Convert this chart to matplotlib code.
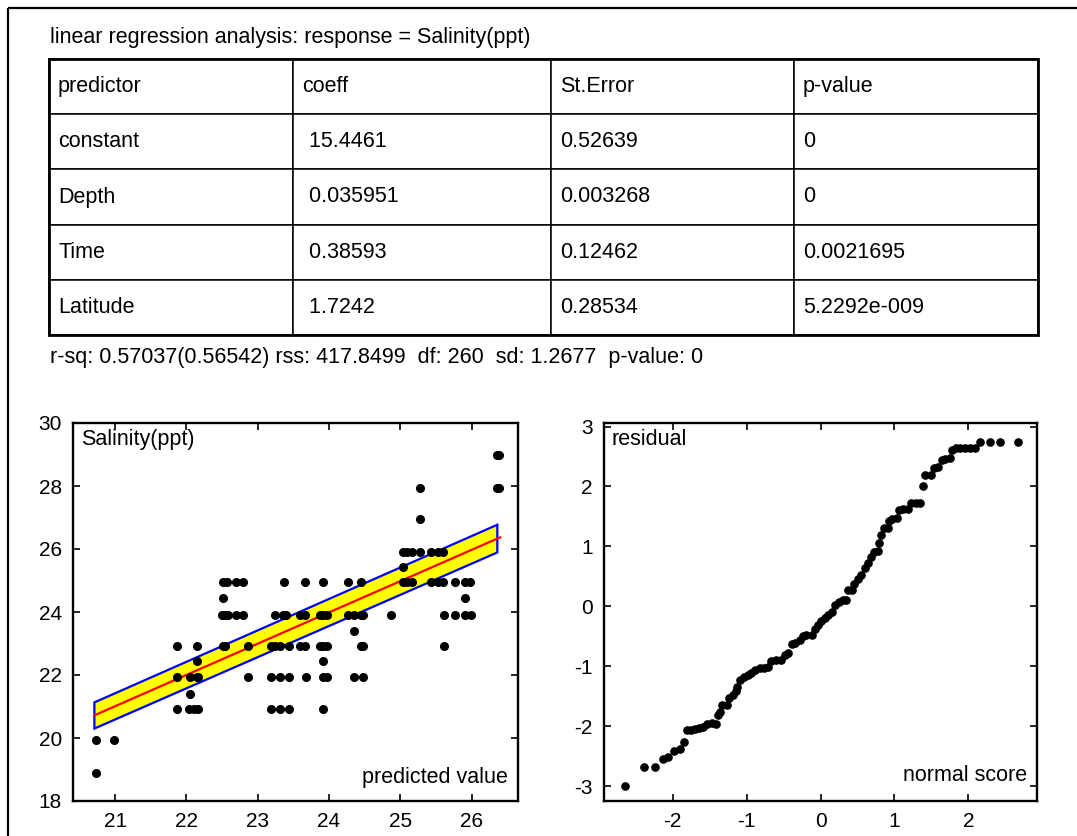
import matplotlib
matplotlib.use("Agg")
import matplotlib.pyplot as plt
from matplotlib.patches import Rectangle, Polygon

plt.rcParams['font.family'] = ['Liberation Sans', 'DejaVu Sans']
plt.rcParams['axes.unicode_minus'] = False

# ---------------- data ----------------
title_text = "linear regression analysis: response = Salinity(ppt)"
col_labels = ["predictor", "coeff", "St.Error", "p-value"]
predictors = ["constant", "Depth", "Time", "Latitude"]
coeffs = [" 15.4461", " 0.035951", " 0.38593", " 1.7242"]
st_errors = ["0.52639", "0.003268", "0.12462", "0.28534"]
p_values = ["0", "0", "0.0021695", "5.2292e-009"]
summary_text = "r-sq: 0.57037(0.56542) rss: 417.8499  df: 260  sd: 1.2677  p-value: 0"

# scatter: predicted value vs observed salinity
predicted = [
    26.36, 26.38,
    25.28, 26.36, 26.38,
    25.28,
    25.04, 25.10, 25.17, 25.28, 25.43, 25.53, 25.60,
    25.04,
    22.51, 22.57, 22.70, 22.80, 23.37, 23.67, 23.91, 24.27, 24.45, 25.04,
    25.10, 25.17, 25.43, 25.53, 25.60, 25.77, 25.90, 25.98,
    22.51, 25.90,
    22.50, 22.54, 22.59, 22.70, 22.80, 23.24, 23.36, 23.39, 23.59, 23.67,
    23.88, 23.91, 23.97, 24.27, 24.35, 24.45, 24.48, 24.87, 25.61, 25.77,
    25.90, 25.99,
    24.35,
    21.87, 22.15, 22.51, 22.54, 22.87, 23.18, 23.24, 23.31, 23.44, 23.59,
    23.67, 23.88, 23.91, 23.97, 24.45, 24.48, 25.61,
    22.15, 23.91,
    21.87, 22.05, 22.15, 22.16, 22.87, 23.18, 23.31, 23.44, 23.68, 23.91,
    23.97, 24.35, 24.48,
    22.05,
    21.87, 22.04, 22.11, 22.16, 23.18, 23.31, 23.44, 23.91,
    20.73, 20.99,
    20.73,
]
salinity = (
    [28.98] * 2 + [27.93] * 3 + [26.96] + [25.92] * 7 + [25.43] +
    [24.94] * 18 + [24.45] * 2 + [23.91] * 22 + [23.41] + [22.92] * 17 +
    [22.43] * 2 + [21.94] * 13 + [21.40] + [20.91] * 8 + [19.93] * 2 + [18.90]
)

fit_x = [20.71, 26.40]
fit_y = [20.72, 26.37]
band_x = [20.71, 26.36]
band_lower = [20.30, 25.89]
band_upper = [21.13, 26.77]

# normal probability plot of residuals
normal_score = [
    -2.64, -2.39, -2.24, -2.13, -2.06, -1.98, -1.90, -1.85, -1.80, -1.75,
    -1.70, -1.64, -1.59, -1.53, -1.47, -1.42, -1.39, -1.36, -1.33, -1.26,
    -1.24, -1.19, -1.15, -1.13, -1.09, -1.04, -0.98, -0.94, -0.89, -0.82,
    -0.76, -0.71, -0.67, -0.60, -0.53, -0.48, -0.44, -0.38, -0.34, -0.28,
    -0.24, -0.19, -0.12, -0.08, -0.03, 0.01, 0.06, 0.10, 0.15, 0.19,
    0.25, 0.30, 0.35, 0.37, 0.42, 0.46, 0.51, 0.55, 0.60, 0.64,
    0.69, 0.73, 0.78, 0.79, 0.82, 0.86, 0.91, 0.93, 0.97, 1.03,
    1.06, 1.12, 1.18, 1.23, 1.29, 1.35, 1.39, 1.42, 1.49, 1.53,
    1.59, 1.64, 1.69, 1.75, 1.78, 1.83, 1.89, 1.95, 2.02, 2.09,
    2.16, 2.29, 2.43, 2.67,
]
residual = [
    -3.00, -2.68, -2.68, -2.55, -2.51, -2.41, -2.39, -2.26, -2.06, -2.06,
    -2.05, -2.03, -2.01, -1.97, -1.95, -1.96, -1.81, -1.76, -1.65, -1.65,
    -1.53, -1.48, -1.42, -1.34, -1.23, -1.18, -1.14, -1.12, -1.06, -1.03,
    -1.03, -1.01, -0.92, -0.89, -0.90, -0.81, -0.78, -0.63, -0.62, -0.56,
    -0.50, -0.48, -0.48, -0.38, -0.31, -0.25, -0.20, -0.14, -0.09, 0.03,
    0.08, 0.11, 0.11, 0.28, 0.28, 0.38, 0.45, 0.53, 0.64, 0.72,
    0.83, 0.90, 0.93, 1.05, 1.19, 1.31, 1.31, 1.43, 1.46, 1.47,
    1.61, 1.62, 1.62, 1.72, 1.72, 1.72, 2.00, 2.20, 2.20, 2.31,
    2.32, 2.45, 2.46, 2.47, 2.61, 2.64, 2.64, 2.64, 2.64, 2.64,
    2.74, 2.74, 2.74, 2.74,
]

left_xticks = [21, 22, 23, 24, 25, 26]
left_yticks = [18, 20, 22, 24, 26, 28, 30]
right_xticks = [-2, -1, 0, 1, 2]
right_yticks = [-3, -2, -1, 0, 1, 2, 3]

# ---------------- figure ----------------
W, H = 1077, 836
DPI = 100
fig = plt.figure(figsize=(W / DPI, H / DPI), dpi=DPI)
FS = 15.5

def fbox(x0, y0, x1, y1):
    return [x0 / W, 1 - y1 / H, (x1 - x0) / W, (y1 - y0) / H]

bg = fig.add_axes([0, 0, 1, 1], zorder=0)
bg.set_xlim(0, W)
bg.set_ylim(H, 0)
bg.axis('off')
bg.add_patch(Rectangle((8, 8), W + 50, H + 50, fill=False, lw=1.6,
                       edgecolor='black', clip_on=False))
bg.text(50, 37, title_text, fontsize=FS, ha='left', va='center')
bg.text(50, 357, summary_text, fontsize=FS, ha='left', va='center')

# table
tab_ax = fig.add_axes(fbox(49, 59, 1038, 335), zorder=1)
tab_ax.axis('off')
cell_text = [list(r) for r in zip(predictors, coeffs, st_errors, p_values)]
widths = [244, 258, 243, 244]
tot = sum(widths)
tbl = tab_ax.table(cellText=cell_text, colLabels=col_labels, cellLoc='left',
                   colLoc='left', bbox=[0, 0, 1, 1],
                   colWidths=[w / tot for w in widths])
tbl.auto_set_font_size(False)
tbl.set_fontsize(FS)
for (r, c), cell in tbl.get_celld().items():
    cell.set_linewidth(1.1)
    cell.set_edgecolor('black')
    cell.PAD = 0.037
tab_ax.add_patch(Rectangle((0, 0), 1, 1, transform=tab_ax.transAxes,
                           fill=False, lw=2.0, edgecolor='black', clip_on=False))

def style_axes(ax):
    for s in ax.spines.values():
        s.set_linewidth(1.7)
    ax.tick_params(direction='in', length=5, width=1.2, top=True, right=True,
                   labelsize=FS - 0.5, pad=8)

# left: observed vs predicted
ax1 = fig.add_axes(fbox(73, 423, 518, 801), zorder=2)
ax1.add_patch(Polygon(list(zip(band_x + band_x[::-1], band_lower + band_upper[::-1])),
                      closed=True, facecolor='#ffff00', edgecolor='#0000ff',
                      lw=1.6, zorder=2))
ax1.plot(fit_x, fit_y, color='#ff0000', lw=1.6, zorder=3)
ax1.plot(predicted, salinity, 'o', color='black', markersize=5.5, zorder=4)
ax1.set_xlim(20.41, 26.65)
ax1.set_ylim(18, 30)
ax1.set_xticks(left_xticks)
ax1.set_yticks(left_yticks)
style_axes(ax1)
ax1.text(0.019, 0.985, "Salinity(ppt)", transform=ax1.transAxes, fontsize=FS,
         ha='left', va='top', zorder=5)
ax1.text(0.977, 0.035, "predicted value", transform=ax1.transAxes, fontsize=FS,
         ha='right', va='bottom', zorder=5)

# right: normal probability plot
ax2 = fig.add_axes(fbox(604, 423, 1037, 801), zorder=2)
ax2.plot(normal_score, residual, 'o', color='black', markersize=5.2, zorder=4)
ax2.set_xlim(-2.93, 2.93)
ax2.set_ylim(-3.25, 3.06)
ax2.set_xticks(right_xticks)
ax2.set_yticks(right_yticks)
style_axes(ax2)
ax2.text(0.018, 0.985, "residual", transform=ax2.transAxes, fontsize=FS,
         ha='left', va='top', zorder=5)
ax2.text(0.977, 0.04, "normal score", transform=ax2.transAxes, fontsize=FS,
         ha='right', va='bottom', zorder=5)

fig.savefig("out.png", dpi=DPI)
